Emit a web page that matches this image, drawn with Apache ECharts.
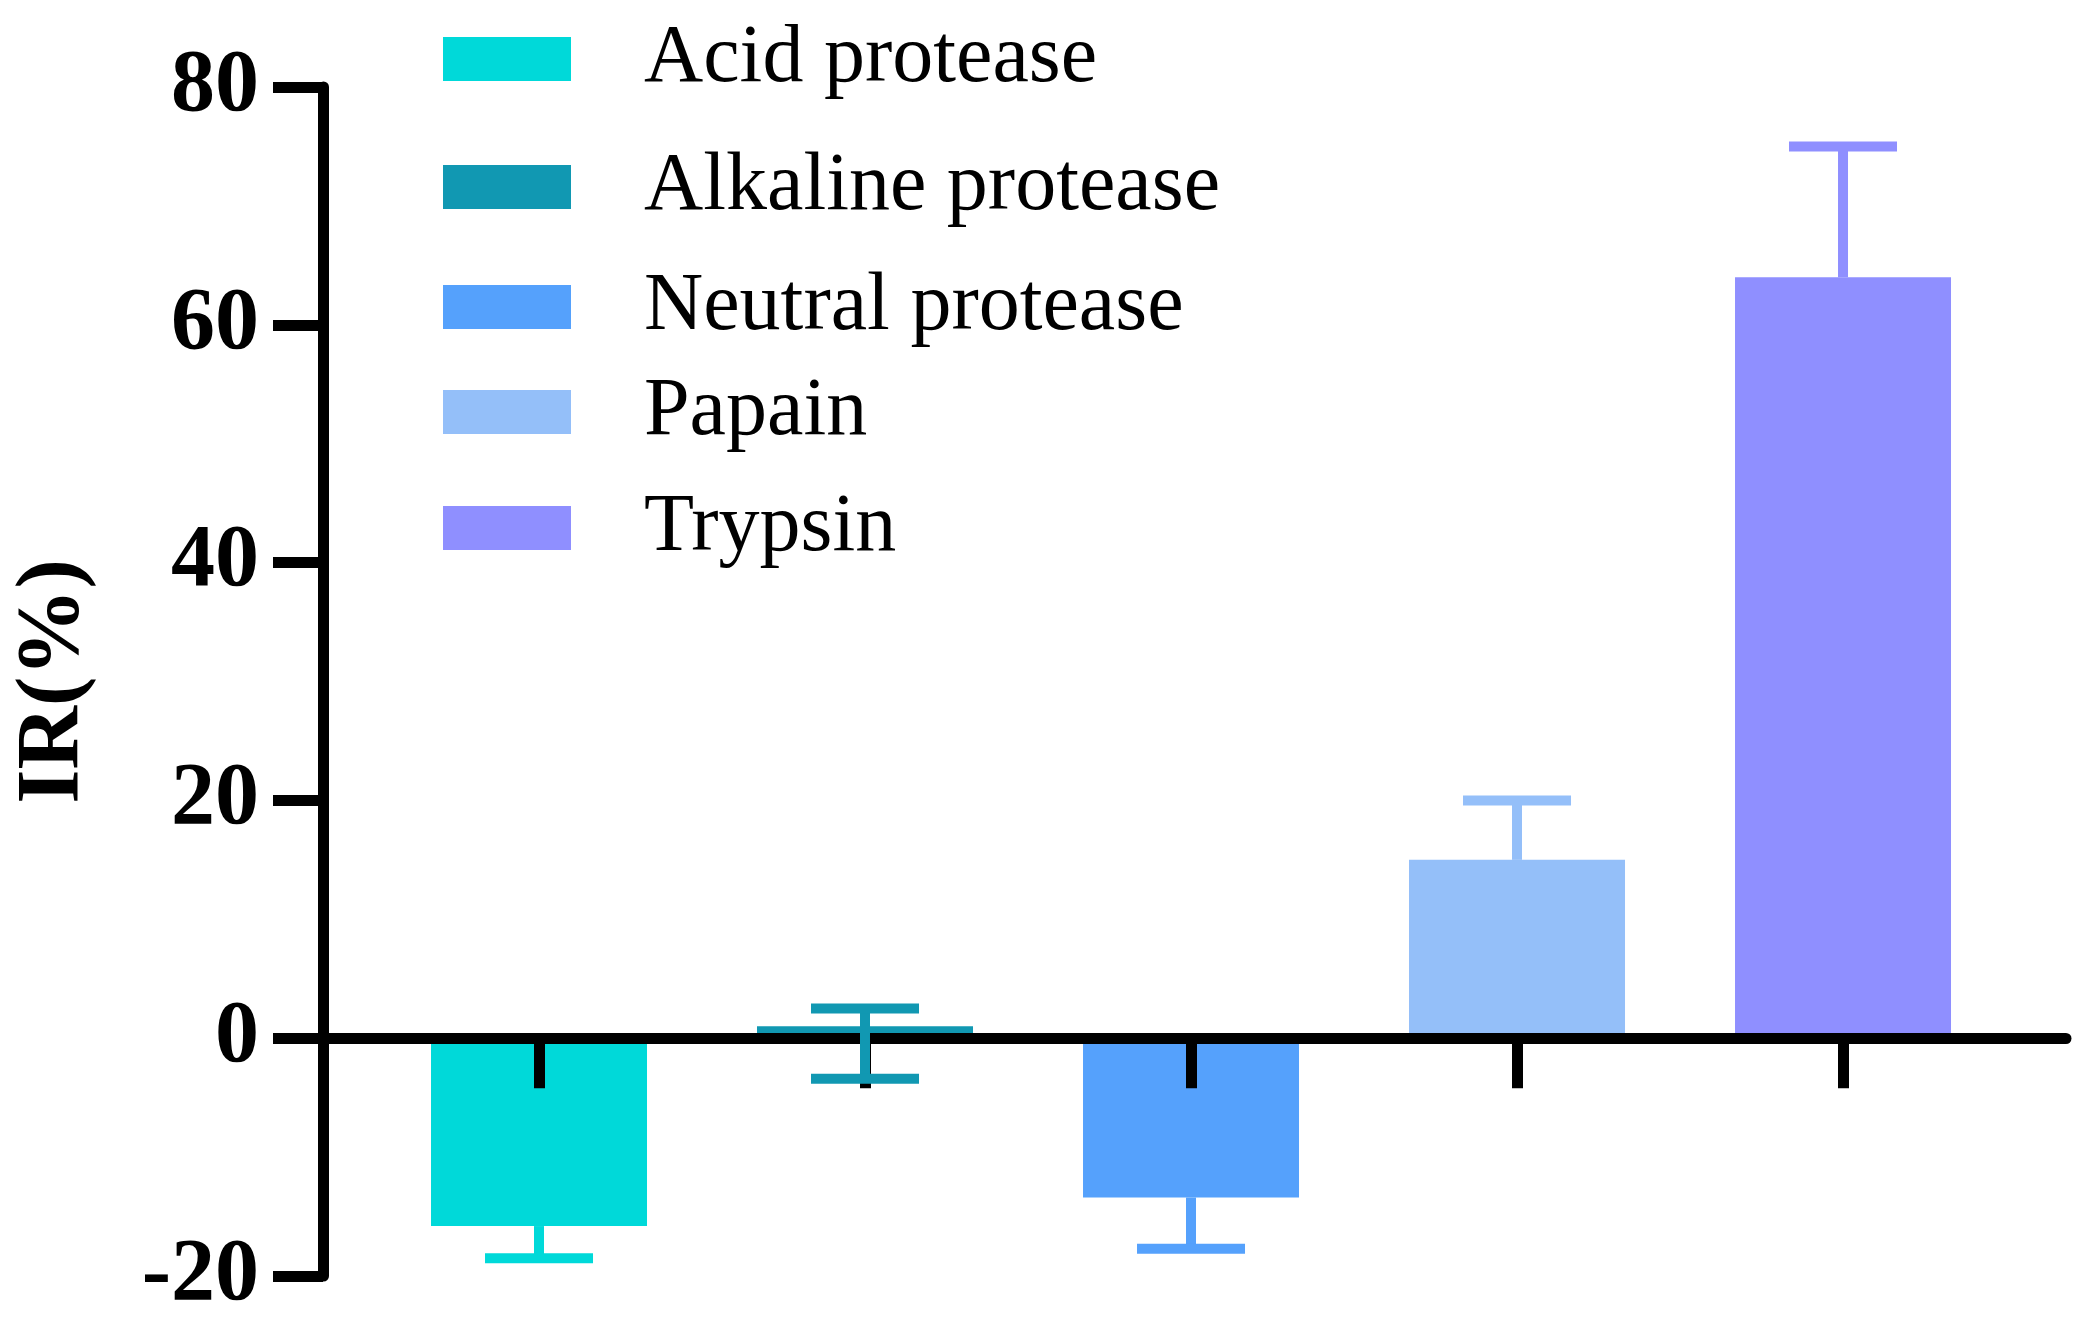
<!DOCTYPE html>
<html><head><meta charset="utf-8">
<script src="https://cdn.jsdelivr.net/npm/echarts@6/dist/echarts.min.js"></script>
<style>html,body{margin:0;padding:0;background:#fff}#c{width:2088px;height:1330px}</style>
</head><body><div id="c"></div>
<script>
const categories = ['Acid protease', 'Alkaline protease', 'Neutral protease', 'Papain', 'Trypsin'];
const positions = [1, 2, 3, 4, 5];
const means = [-15.8, 1.0, -13.4, 15.0, 64.0];
const errLow = [-18.5, -3.4, -17.7, 15.0, 64.0];
const errHigh = [-15.8, 2.5, -13.4, 20.0, 75.0];
const yTicks = [-20, 0, 20, 40, 60, 80];

const colors = ['#00D9D9', '#1198B2', '#55A1FC', '#94BFF9', '#8F8FFF'];
const legendCenters = [35, 163, 283, 388, 504];
const serif = "'Liberation Serif', 'Times New Roman', serif";

const chart = echarts.init(document.getElementById('c'), null, {renderer: 'canvas'});

const barSeries = categories.map((name, i) => ({
  type: 'bar', name: name,
  data: [[positions[i], means[i]]],
  barWidth: 216, barGap: '-100%',
  itemStyle: {color: colors[i]},
  z: 2, silent: true
}));

const errSeries = {
  type: 'custom', name: 'err', z: 10, silent: true,
  data: positions.map((p, i) => [p, errLow[i], errHigh[i], means[i]]),
  encode: {x: 0, y: [1, 2]},
  renderItem: function (params, api) {
    const x = api.value(0), lo = api.value(1), hi = api.value(2), m = api.value(3);
    const pLo = api.coord([x, lo]), pHi = api.coord([x, hi]);
    const c = colors[params.dataIndex];
    const style = {stroke: c, lineWidth: 10, lineCap: 'butt'};
    const half = 54;
    const children = [{type: 'line', shape: {x1: pLo[0], y1: pLo[1], x2: pHi[0], y2: pHi[1]}, style: style}];
    if (lo !== m) children.push({type: 'line', shape: {x1: pLo[0] - half, y1: pLo[1], x2: pLo[0] + half, y2: pLo[1]}, style: style});
    if (hi !== m) children.push({type: 'line', shape: {x1: pHi[0] - half, y1: pHi[1], x2: pHi[0] + half, y2: pHi[1]}, style: style});
    return {type: 'group', children: children};
  }
};

const legends = categories.map((name, i) => ({
  data: [name], left: 438, top: legendCenters[i] - 22, orient: 'vertical',
  icon: 'rect', itemWidth: 128, itemHeight: 44, selectedMode: false,
  textStyle: {fontFamily: serif, fontSize: 82, color: '#000', lineHeight: 44, padding: [0, 0, 0, 68]}
}));

chart.setOption({
  backgroundColor: '#fff',
  animation: false,
  legend: legends,
  grid: {left: 323, right: 22, top: 87, bottom: 54, containLabel: false},
  xAxis: {
    type: 'value', min: 0.3374, max: 5.684, z: 5,
    splitLine: {show: false},
    axisLine: {onZero: true, lineStyle: {color: '#000', width: 11}},
    axisTick: {show: true, customValues: positions, length: 50, lineStyle: {color: '#000', width: 11}},
    axisLabel: {show: false}
  },
  yAxis: {
    type: 'value', min: -20, max: 80, interval: 20, z: 5,
    name: 'IR(%)', nameLocation: 'middle', nameRotate: 90, nameGap: 225,
    nameTextStyle: {fontFamily: serif, fontSize: 88, fontWeight: 'bold', color: '#000'},
    splitLine: {show: false},
    axisLine: {show: true, lineStyle: {color: '#000', width: 11}},
    axisTick: {show: true, length: 50, lineStyle: {color: '#000', width: 11}},
    axisLabel: {
      margin: 64, fontFamily: serif, fontSize: 88, fontWeight: 'bold', color: '#000',
      customValues: yTicks
    }
  },
  series: barSeries.concat([errSeries])
});
</script></body></html>
